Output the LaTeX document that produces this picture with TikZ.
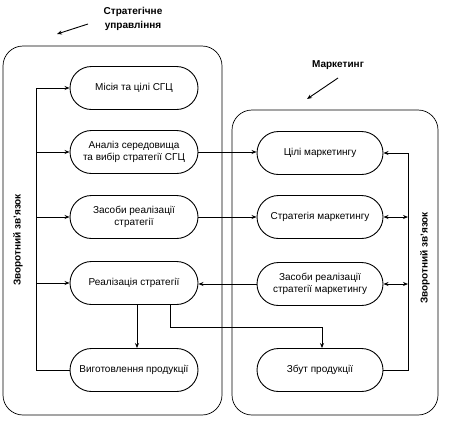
\documentclass[tikz,border=0pt]{standalone}
\usepackage{fontspec}
\setmainfont{Liberation Sans}
\usetikzlibrary{shapes.misc,arrows.meta}

\begin{document}
\begin{tikzpicture}[x=1pt,y=-1pt, line width=0.9pt,
    stage/.style={draw, rounded rectangle, minimum width=132pt, minimum height=43pt,
      align=center, inner sep=2pt, font=\fontsize{10}{12}\selectfont},
    panel/.style={draw, rounded corners=20pt, line width=0.7pt},
    heading/.style={align=center, font=\fontsize{10}{13.5}\selectfont\bfseries},
    >={Stealth[length=5pt,width=4pt]}]
  \useasboundingbox (0,0) rectangle (449,421);
  % panels
  \draw[panel] (3,46) rectangle (222,415);
  \draw[panel] (232,110) rectangle (438,415);
  \node[heading] (sth) at (133,19) {Стратегічне\\управління};
  \node[heading] (mkh) at (338,65) {Маркетинг};
  \coordinate (sta) at (88,24);
  \coordinate (mka) at (338,78);
  \draw[->] (sta) -- ++(-31,10);
  \draw[->] (mka) -- ++(-31,21);
  % strategic management
  \node[stage] (mis) at (134,88) {Місія та цілі СГЦ};
  \node[stage] (anl) at (134,152) {Аналіз середовища\\та вибір стратегії СГЦ};
  \node[stage] (zas) at (134,217) {Засоби реалізації\\стратегії};
  \node[stage] (rea) at (134,283) {Реалізація стратегії};
  \node[stage] (vyg) at (134,370) {Виготовлення продукції};
  % marketing
  \node[stage, minimum width=130pt] (cil) at (320,153) {Цілі маркетингу};
  \node[stage, minimum width=130pt] (str) at (320,217) {Стратегія маркетингу};
  \node[stage, minimum width=130pt] (zsm) at (320,284) {Засоби реалізації\\стратегії маркетингу};
  \node[stage, minimum width=130pt] (zbt) at (320,370) {Збут продукції};
  % feedback loops
  \coordinate (fbl) at (36,0);
  \coordinate (fbr) at (408,0);
  \draw (vyg.west) -- (vyg.west -| fbl) -- (mis.west -| fbl);
  \foreach \n in {mis,anl,zas,rea}
    \draw[->] (\n.west -| fbl) -- (\n.west);
  \draw (zbt.east) -- (zbt.east -| fbr) -- (cil.east -| fbr);
  \draw[->] (cil.east -| fbr) -- (cil.east);
  \foreach \n in {str,zsm}
    \draw[<->] (\n.east -| fbr) -- (\n.east);
  \node[heading, rotate=90] (fbtl) at (18,240) {Зворотний зв'язок};
  \node[heading, rotate=90] (fbtr) at (425,258) {Зворотний зв'язок};
  % links
  \draw[->] (anl.east) -- (anl.east -| cil.west);
  \draw[->] (zas.east) -- (zas.east -| str.west);
  \draw[->] (zsm.west) -- (zsm.west -| rea.east);
  \draw[->] (rea.south -| 137,0) -- (vyg.north -| 137,0);
  \draw[->] (rea.south -| 170,0) |- (322,327) -- (zbt.north -| 322,0);
\end{tikzpicture}
\end{document}
